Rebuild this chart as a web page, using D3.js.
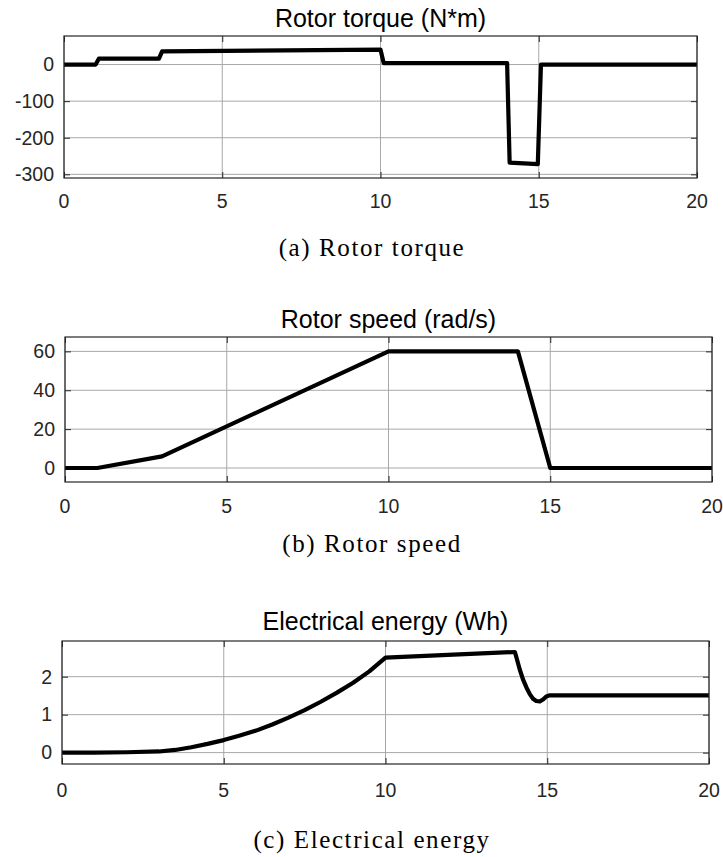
<!DOCTYPE html>
<html>
<head>
<meta charset="utf-8">
<script src="https://cdn.jsdelivr.net/npm/d3@7"></script>
<style>
  body { margin: 0; background: #fff; }
  svg { display: block; }
</style>
</head>
<body>
<script>
// values
var torqueT = [0, 1, 1.1, 3, 3.1, 10, 10.1, 14, 14.08, 14.97, 15.07, 20];
var torqueV = [0, 0, 16, 16, 36, 41, 4, 4, -268, -272, 0, 0];

var speedT = [0, 1, 3, 10, 14, 15, 20];
var speedV = [0, 0, 6, 60, 60, 0, 0];

var energyT = [0, 1, 2, 3, 3.5, 4, 4.5, 5, 5.5, 6, 6.5, 7, 7.5, 8, 8.5, 9, 9.5, 10,
               14, 14.05, 14.15, 14.25, 14.36, 14.46, 14.56, 14.66, 14.77, 14.87, 14.97, 15.08, 20];
var energyV = [0, 0, 0.01, 0.03, 0.07, 0.14, 0.23, 0.33, 0.45, 0.58, 0.74, 0.92, 1.12, 1.34, 1.58, 1.84, 2.14, 2.5,
               2.65, 2.5, 2.19, 1.93, 1.71, 1.54, 1.42, 1.36, 1.35, 1.4, 1.48, 1.51, 1.51];

var xTicks = [0, 5, 10, 15, 20];
var torqueTicks = [0, -100, -200, -300];
var speedTicks = [0, 20, 40, 60];
var energyTicks = [0, 1, 2];

var titles = ["Rotor torque (N*m)", "Rotor speed (rad/s)", "Electrical energy (Wh)"];
var captions = ["(a) Rotor torque", "(b) Rotor speed", "(c) Electrical energy"];

var W = 723, H = 857;
var svg = d3.select("body").append("svg")
    .attr("width", W)
    .attr("height", H);

var panels = [
    { t: torqueT, v: torqueV, ticks: torqueTicks, ydom: [-310, 78],
      left: 64, right: 697, top: 36, bottom: 178, titleY: 27, xlabY: 208, capY: 256 },
    { t: speedT, v: speedV, ticks: speedTicks, ydom: [-7.2, 67.4],
      left: 65, right: 712, top: 337, bottom: 482, titleY: 328, xlabY: 513, capY: 552 },
    { t: energyT, v: energyV, ticks: energyTicks, ydom: [-0.3, 2.94],
      left: 62, right: 709, top: 641, bottom: 764, titleY: 630, xlabY: 797, capY: 848 }
];

panels.forEach(function(p, i) {
    var x = d3.scaleLinear().domain([0, 20]).range([p.left, p.right]);
    var y = d3.scaleLinear().domain(p.ydom).range([p.bottom, p.top]);
    var g = svg.append("g");

    // grid
    g.selectAll(".gx").data(xTicks).enter().append("line")
        .attr("x1", function(d) { return x(d); })
        .attr("x2", function(d) { return x(d); })
        .attr("y1", p.top).attr("y2", p.bottom)
        .style("stroke", "#a8a8a8").style("stroke-width", 1);
    g.selectAll(".gy").data(p.ticks).enter().append("line")
        .attr("y1", function(d) { return y(d); })
        .attr("y2", function(d) { return y(d); })
        .attr("x1", p.left).attr("x2", p.right)
        .style("stroke", "#a8a8a8").style("stroke-width", 1);

    // inward ticks on all four sides
    var axL = d3.axisRight(y).tickValues(p.ticks).tickSize(6).tickFormat("");
    var axR = d3.axisLeft(y).tickValues(p.ticks).tickSize(6).tickFormat("");
    var axB = d3.axisTop(x).tickValues(xTicks).tickSize(6).tickFormat("");
    var axT = d3.axisBottom(x).tickValues(xTicks).tickSize(6).tickFormat("");
    [[axL, "translate(" + p.left + ",0)"], [axR, "translate(" + p.right + ",0)"],
     [axB, "translate(0," + p.bottom + ")"], [axT, "translate(0," + p.top + ")"]].forEach(function(a) {
        var ag = g.append("g").attr("transform", a[1]).call(a[0]);
        ag.select(".domain").remove();
        ag.selectAll("line").style("stroke", "#262626");
    });

    // tick labels
    g.selectAll(".yl").data(p.ticks).enter().append("text")
        .attr("x", p.left - 10)
        .attr("y", function(d) { return y(d); })
        .attr("dy", "0.35em")
        .attr("text-anchor", "end")
        .style("font-family", "'Liberation Sans', Arial, sans-serif")
        .style("font-size", "19.5px")
        .style("fill", "#262626")
        .text(function(d) { return d; });
    g.selectAll(".xl").data(xTicks).enter().append("text")
        .attr("x", function(d) { return x(d); })
        .attr("y", p.xlabY)
        .attr("text-anchor", "middle")
        .style("font-family", "'Liberation Sans', Arial, sans-serif")
        .style("font-size", "19.5px")
        .style("fill", "#262626")
        .text(function(d) { return d; });

    // data line
    var pts = p.t.map(function(t, k) { return [t, p.v[k]]; });
    g.append("path")
        .datum(pts)
        .attr("d", d3.line()
            .x(function(d) { return x(d[0]); })
            .y(function(d) { return y(d[1]); }))
        .style("fill", "none")
        .style("stroke", "#000")
        .style("stroke-width", 4.2)
        .style("stroke-linejoin", "round");

    // box
    g.append("rect")
        .attr("x", p.left).attr("y", p.top)
        .attr("width", p.right - p.left).attr("height", p.bottom - p.top)
        .style("fill", "none")
        .style("stroke", "#262626")
        .style("stroke-width", 1.2);

    // title
    g.append("text")
        .attr("x", (p.left + p.right) / 2)
        .attr("y", p.titleY)
        .attr("text-anchor", "middle")
        .style("font-family", "'Liberation Sans', Arial, sans-serif")
        .style("font-size", "25px")
        .style("fill", "#000")
        .text(titles[i]);

    // caption
    svg.append("text")
        .attr("x", 372)
        .attr("y", p.capY)
        .attr("text-anchor", "middle")
        .style("font-family", "'Liberation Serif', 'Times New Roman', serif")
        .style("font-size", "25px")
        .style("letter-spacing", "1.6px")
        .style("fill", "#000")
        .text(captions[i]);
});
</script>
</body>
</html>
